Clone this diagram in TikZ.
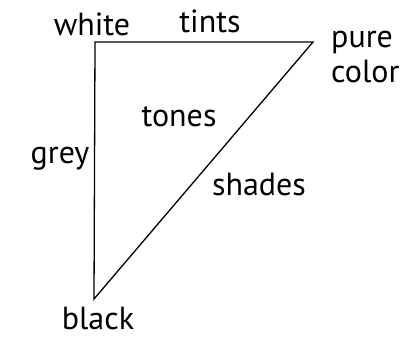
\documentclass[tikz,border=0pt]{standalone}
\usepackage{fontspec}
\setmainfont{PT Sans}
\begin{document}
\begin{tikzpicture}[x=1pt,y=-1pt,
  lbl/.style={font=\fontsize{32}{38}\selectfont, inner sep=0pt, anchor=base},
  edge/.style={line width=1.3pt}]
\useasboundingbox (0,0) rectangle (411,337);
\coordinate (W) at (95,42);
\coordinate (P) at (313,42);
\coordinate (B) at (94,299);
\draw[edge, line join=miter] (W) -- (P) -- (B) -- cycle;
\node[lbl] (white) at (92,35) {white};
\node[lbl] (tints) at (210,33) {tints};
\node[lbl, anchor=base west] (pure) at (331,48) {pure};
\node[lbl, anchor=base west] (color) at (331,82) {color};
\node[lbl] (tones) at (179,126) {tones};
\node[lbl] (grey) at (60,163) {grey};
\node[lbl] (shades) at (259,195) {shades};
\node[lbl] (black) at (98,329) {black};
\end{tikzpicture}
\end{document}
